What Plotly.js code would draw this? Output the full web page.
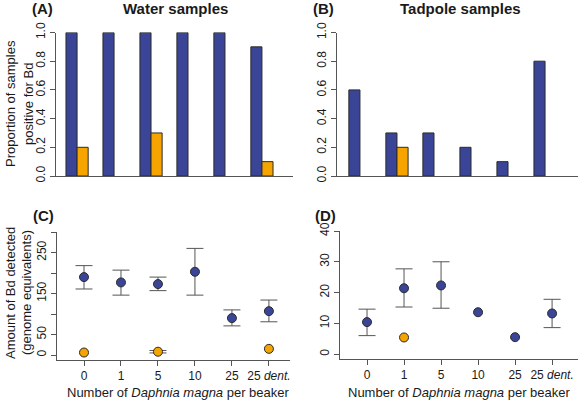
<!DOCTYPE html>
<html>
<head>
<meta charset="utf-8">
<script src="https://cdn.plot.ly/plotly-3.0.1.min.js"></script>
<style>html,body{margin:0;padding:0;background:#fff;}#chart{width:578px;height:403px;}</style>
</head>
<body>
<div id="chart"></div>
<script>
// ---- data ----
var groups = [0, 1, 2, 3, 4, 5];
var groupLabels = ["0", "1", "5", "10", "25", "25 <i>dent.</i>"];

// (A) Water samples: proportion positive
var waterBlue = [1.0, 1.0, 1.0, 1.0, 1.0, 0.9];
var waterOrange = [0.2, 0.0, 0.3, 0.0, 0.0, 0.1];
// (B) Tadpole samples: proportion positive
var tadBlue = [0.6, 0.3, 0.3, 0.2, 0.1, 0.8];
var tadOrange = [0.0, 0.2, 0.0, 0.0, 0.0, 0.0];

// (C) Water: amount of Bd (genome equivalents)
var cBlueY = [190, 177, 173, 203, 90, 107];
var cBluePlus = [28, 30, 17, 57, 20, 27];
var cBlueMinus = [29, 31, 16, 57, 19, 26];
var cOrangeX = [0, 5];
var cOrangeY = [6, 15];
var cOrangeErrX = [2];
var cOrangeErrY = [8];
var cOrangeErr = [3];

// (D) Tadpole: amount of Bd
var dBlueErrX = [0, 1, 2, 5];
var dBlueErrY = [10.4, 21.4, 22.3, 13.2];
var dBluePlus = [4.2, 6.3, 7.7, 4.6];
var dBlueMinus = [4.4, 6.1, 7.4, 4.6];
var dBlueX = [3, 4];
var dBlueY = [13.6, 5.5];
var dOrangeX = [1];
var dOrangeY = [5.4];

var yPropTicks = [0, 0.2, 0.4, 0.6, 0.8, 1.0];
var yPropLabels = ["0.0", "0.2", "0.4", "0.6", "0.8", "1.0"];
var cTicks = [0, 50, 100, 150, 200, 250, 300];
var cTickLabels = ["0", "50", "", "150", "", "250", ""];
var dTicks = [0, 10, 20, 30, 40];
var dTickLabels = ["0", "10", "20", "30", "40"];

// ---- styling ----
var W = 578, H = 403;
function xp(p) { return p / W; }
function yp(p) { return 1 - p / H; }
var BLUE = "#3a4597", ORANGE = "#f5a400", EDGE = "#2b2b2b", AX = "#555555", TXT = "#1a1a1a";
var FONT = "Liberation Sans, Arial, sans-serif";

function nz(arr) { return arr.map(function (v) { return v === 0 ? null : v; }); }
function bar(x, y, color, xa, ya) {
  return {type: "bar", x: x, y: nz(y), xaxis: xa, yaxis: ya,
    marker: {color: color, line: {color: EDGE, width: 1}}, hoverinfo: "none"};
}
function pts(x, y, color, xa, ya, plus, minus) {
  var t = {type: "scatter", mode: "markers", x: x, y: y, xaxis: xa, yaxis: ya,
    marker: {size: 9, color: color, line: {color: EDGE, width: 1}}, hoverinfo: "none", cliponaxis: false};
  if (plus) {
    t.error_y = {type: "data", symmetric: false, array: plus, arrayminus: minus,
      color: AX, thickness: 1, width: 8.5};
  }
  return t;
}

var data = [
  bar(groups, waterBlue, BLUE, "x", "y"),
  bar(groups, waterOrange, ORANGE, "x", "y"),
  bar(groups, tadBlue, BLUE, "x2", "y2"),
  bar(groups, tadOrange, ORANGE, "x2", "y2"),
  pts(groups, cBlueY, BLUE, "x3", "y3", cBluePlus, cBlueMinus),
  pts(cOrangeErrX, cOrangeErrY, ORANGE, "x3", "y3", cOrangeErr, cOrangeErr),
  pts(cOrangeX, cOrangeY, ORANGE, "x3", "y3"),
  pts(dBlueErrX, dBlueErrY, BLUE, "x4", "y4", dBluePlus, dBlueMinus),
  pts(dBlueX, dBlueY, BLUE, "x4", "y4"),
  pts(dOrangeX, dOrangeY, ORANGE, "x4", "y4")
];

function xax(d, range, labels) {
  var a = {domain: d, range: range, showgrid: false, zeroline: false, showline: true,
    linecolor: AX, linewidth: 1, fixedrange: true};
  if (labels) {
    a.tickmode = "array"; a.tickvals = groups; a.ticktext = labels;
    a.ticks = "outside"; a.ticklen = 5; a.tickcolor = AX; a.tickwidth = 1;
    a.tickfont = {family: FONT, size: 12, color: TXT};
  } else {
    a.showticklabels = false; a.ticks = "";
  }
  return a;
}
function yax(d, range, vals, labels, anchor) {
  return {domain: d, range: range, anchor: anchor, showgrid: false, zeroline: false,
    showline: true, linecolor: AX, linewidth: 1, tickmode: "array", tickvals: vals,
    ticktext: labels, ticks: "outside", ticklen: 5, tickcolor: AX, tickwidth: 1,
    tickangle: -90, tickfont: {family: FONT, size: 12, color: TXT}, fixedrange: true};
}

var topD = [yp(176), yp(32.5)];
var layout = {
  width: W, height: H, margin: {l: 0, r: 0, t: 0, b: 0},
  paper_bgcolor: "#ffffff", plot_bgcolor: "rgba(0,0,0,0)",
  showlegend: false, barmode: "group", bargap: 0.4, bargroupgap: 0,
  font: {family: FONT, color: TXT},
  xaxis: Object.assign(xax([xp(56), xp(293)], [-0.57, 5.84]), {anchor: "y"}),
  yaxis: yax(topD, [0, 1], yPropTicks, yPropLabels, "x"),
  xaxis2: Object.assign(xax([xp(337), 1], [-0.62, 5.89]), {anchor: "y2"}),
  yaxis2: yax(topD, [0, 1], yPropTicks, yPropLabels, "x2"),
  xaxis3: Object.assign(xax([xp(57), xp(290)], [-0.73, 5.57], groupLabels), {anchor: "y3"}),
  yaxis3: yax([yp(360), yp(232)], [-12.2, 300], cTicks, cTickLabels, "x3"),
  xaxis4: Object.assign(xax([xp(340), 1], [-0.73, 5.70], groupLabels), {anchor: "y4"}),
  yaxis4: yax([yp(359), yp(231)], [-1.6, 40], dTicks, dTickLabels, "x4"),
  annotations: []
};

function ann(text, x, y, size, opts) {
  var a = {text: text, x: xp(x), y: yp(y), xref: "paper", yref: "paper",
    xanchor: "center", yanchor: "middle", showarrow: false,
    font: {family: FONT, size: size, color: TXT}};
  return Object.assign(a, opts || {});
}
var A = layout.annotations;
A.push(ann("<b>Water samples</b>", 175, 9, 15));
A.push(ann("<b>Tadpole samples</b>", 460, 9, 15));
A.push(ann("<b>(A)</b>", 42, 9, 15));
A.push(ann("<b>(B)</b>", 323, 9, 15));
A.push(ann("<b>(C)</b>", 43, 215, 15));
A.push(ann("<b>(D)</b>", 325, 215, 15));
A.push(ann("Proportion of samples", 10, 104, 13, {textangle: -90}));
A.push(ann("positive for Bd", 28, 104, 13, {textangle: -90}));
A.push(ann("Amount of Bd detected", 10, 293, 13, {textangle: -90}));
A.push(ann("(genome equivalents)", 26, 293, 13, {textangle: -90}));
A.push(ann("Number of <i>Daphnia magna</i> per beaker", 178, 392, 13));
A.push(ann("Number of <i>Daphnia magna</i> per beaker", 459, 392, 13));

Plotly.newPlot("chart", data, layout, {staticPlot: true, displayModeBar: false});
</script>
</body>
</html>
